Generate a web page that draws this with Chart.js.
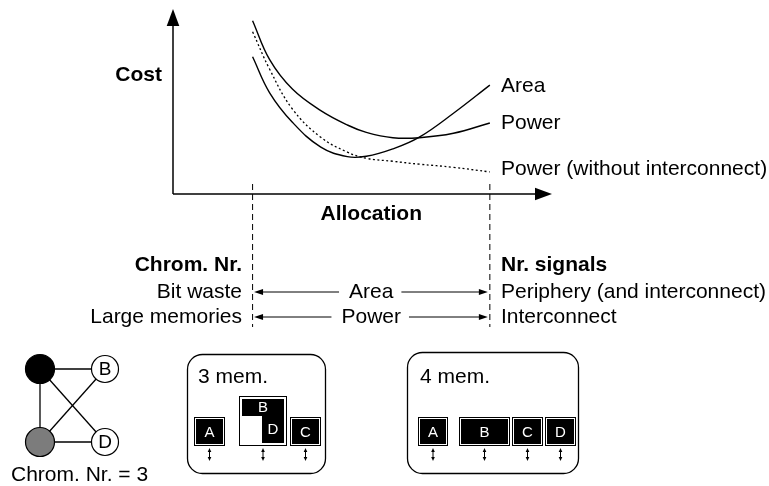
<!DOCTYPE html>
<html>
<head>
<meta charset="utf-8">
<script src="https://cdn.jsdelivr.net/npm/chart.js@4.4.1/dist/chart.umd.min.js"></script>
<style>
  html, body { margin: 0; padding: 0; background: #fff; }
  #wrap { width: 769px; height: 486px; }
</style>
</head>
<body>
<div id="wrap"><canvas id="cost-chart" width="769" height="486"></canvas></div>
<script>
// values (arbitrary units, axis 0..10)
const allocation = [2.1, 2.55, 3.15, 3.9, 4.6, 5.1, 5.8, 6.5, 7.4, 8.36];
const areaCost = [7.46, 5.5, 3.9, 2.55, 2.03, 2.05, 2.45, 3.09, 4.39, 5.92];
const powerCost = [9.42, 7.3, 5.7, 4.53, 3.75, 3.35, 3.06, 3.06, 3.3, 3.86];
const powerNoIcCost = [8.82, 6.78, 4.62, 3.08, 2.28, 1.94, 1.78, 1.62, 1.45, 1.2];
const seriesLabels = ['Area', 'Power', 'Power (without interconnect)'];
const allocationBounds = [2.1, 8.36];

const leftNotes = ['Chrom. Nr.', 'Bit waste', 'Large memories'];
const rightNotes = ['Nr. signals', 'Periphery (and interconnect)', 'Interconnect'];
const rangeNotes = ['Area', 'Power'];
const mem3Blocks = ['A', 'B', 'D', 'C'];
const mem4Blocks = ['A', 'B', 'C', 'D'];

const FONT = '"Liberation Sans", Arial, Helvetica, sans-serif';

function toPoints(ys) {
    return allocation.map((x, i) => ({ x: x, y: ys[i] }));
}

function line(ctx, x1, y1, x2, y2) {
    ctx.beginPath();
    ctx.moveTo(x1, y1);
    ctx.lineTo(x2, y2);
    ctx.stroke();
}

function arrowHead(ctx, tx, ty, dx, dy, len, half) {
    const bx = tx - dx * len, by = ty - dy * len;
    ctx.beginPath();
    ctx.moveTo(tx, ty);
    ctx.lineTo(bx - dy * half, by + dx * half);
    ctx.lineTo(bx + dy * half, by - dx * half);
    ctx.closePath();
    ctx.fill();
}

function roundBox(ctx, x, y, w, h, r) {
    ctx.beginPath();
    ctx.moveTo(x + r, y);
    ctx.arcTo(x + w, y, x + w, y + h, r);
    ctx.arcTo(x + w, y + h, x, y + h, r);
    ctx.arcTo(x, y + h, x, y, r);
    ctx.arcTo(x, y, x + w, y, r);
    ctx.closePath();
    ctx.stroke();
}

function memBlock(ctx, x, y, w, h, label) {
    ctx.fillStyle = '#000';
    ctx.fillRect(x, y, w, h);
    ctx.strokeStyle = '#fff';
    ctx.lineWidth = 1;
    ctx.strokeRect(x + 1.5, y + 1.5, w - 3, h - 3);
    ctx.fillStyle = '#fff';
    ctx.font = '15px ' + FONT;
    ctx.textAlign = 'center';
    ctx.textBaseline = 'middle';
    ctx.fillText(label, x + w / 2, y + h / 2 + 1);
}

function portArrow(ctx, x, y1, y2) {
    ctx.strokeStyle = '#000';
    ctx.fillStyle = '#000';
    ctx.lineWidth = 1;
    line(ctx, x, y1 + 2, x, y2 - 2);
    arrowHead(ctx, x, y1, 0, -1, 4, 1.8);
    arrowHead(ctx, x, y2, 0, 1, 4, 1.8);
}

function node(ctx, x, y, r, fill, label) {
    ctx.beginPath();
    ctx.arc(x, y, r, 0, Math.PI * 2);
    ctx.fillStyle = fill;
    ctx.fill();
    ctx.strokeStyle = '#000';
    ctx.lineWidth = 1.2;
    ctx.stroke();
    if (label) {
        ctx.fillStyle = '#000';
        ctx.font = '19px ' + FONT;
        ctx.textAlign = 'center';
        ctx.textBaseline = 'middle';
        ctx.fillText(label, x, y + 1);
    }
}

const diagram = {
    id: 'diagram',
    afterDraw(chart) {
        const ctx = chart.ctx;
        const xs = chart.scales.x, ys = chart.scales.y;
        const x0 = xs.left, y0 = ys.bottom;
        ctx.save();
        ctx.strokeStyle = '#000';
        ctx.fillStyle = '#000';

        // axes with arrow heads
        ctx.lineWidth = 1.5;
        line(ctx, x0, y0, x0, ys.top + 12);
        line(ctx, x0, y0, xs.right - 12, y0);
        arrowHead(ctx, x0, ys.top - 1, 0, -1, 17, 6.3);
        arrowHead(ctx, xs.right, y0, 1, 0, 17, 6.3);

        // dashed allocation bounds
        const bx = allocationBounds.map(v => xs.getPixelForValue(v));
        ctx.lineWidth = 1;
        ctx.setLineDash([6, 4]);
        bx.forEach(px => line(ctx, px, 184, px, 327));
        ctx.setLineDash([]);

        // axis titles
        ctx.font = 'bold 21px ' + FONT;
        ctx.textBaseline = 'alphabetic';
        ctx.textAlign = 'right';
        ctx.fillText('Cost', 162, 81);
        ctx.textAlign = 'center';
        ctx.fillText('Allocation', (bx[0] + bx[1]) / 2, 220);

        // curve labels
        ctx.font = '21px ' + FONT;
        ctx.textAlign = 'left';
        const endBase = [92, 128.5, 175];
        seriesLabels.forEach((t, i) => ctx.fillText(t, 501, endBase[i]));

        // notes under the chart
        const rowBase = [271, 298, 323];
        leftNotes.forEach((t, i) => {
            ctx.font = (i === 0 ? 'bold ' : '') + '21px ' + FONT;
            ctx.textAlign = 'right';
            ctx.fillText(t, 242, rowBase[i]);
        });
        rightNotes.forEach((t, i) => {
            ctx.font = (i === 0 ? 'bold ' : '') + '21px ' + FONT;
            ctx.textAlign = 'left';
            ctx.fillText(t, 501, rowBase[i]);
        });

        // range arrows between the bounds
        ctx.font = '21px ' + FONT;
        ctx.textAlign = 'center';
        const mid = (bx[0] + bx[1]) / 2;
        rangeNotes.forEach((t, i) => {
            const base = rowBase[i + 1];
            const ay = base - 6;
            const w = ctx.measureText(t).width;
            ctx.fillText(t, mid, base);
            ctx.lineWidth = 1;
            line(ctx, bx[0] + 8, ay, mid - w / 2 - 10, ay);
            line(ctx, mid + w / 2 + 8, ay, bx[1] - 8, ay);
            arrowHead(ctx, bx[0] + 1.5, ay, -1, 0, 9, 3);
            arrowHead(ctx, bx[1] - 2, ay, 1, 0, 9, 3);
        });

        // conflict graph
        ctx.lineWidth = 1.3;
        const nA = [40, 369], nC = [40, 442], nB = [105, 369], nD = [105, 442];
        [[nA, nB], [nA, nC], [nA, nD], [nC, nB], [nC, nD]].forEach(e => line(ctx, e[0][0], e[0][1], e[1][0], e[1][1]));
        node(ctx, nA[0], nA[1], 14.5, '#000');
        node(ctx, nC[0], nC[1], 14.5, '#7c7c7c');
        node(ctx, nB[0], nB[1], 13.5, '#fff', 'B');
        node(ctx, nD[0], nD[1], 13.5, '#fff', 'D');
        ctx.fillStyle = '#000';
        ctx.font = '21px ' + FONT;
        ctx.textAlign = 'left';
        ctx.textBaseline = 'alphabetic';
        ctx.fillText('Chrom. Nr. = 3', 11, 481);

        // memory organisations
        ctx.strokeStyle = '#000';
        ctx.lineWidth = 1.3;
        roundBox(ctx, 187.5, 354.5, 138, 119, 15);
        roundBox(ctx, 407.5, 352.5, 171, 121, 15);
        ctx.fillStyle = '#000';
        ctx.fillText('3 mem.', 198, 383);
        ctx.fillText('4 mem.', 420, 383);

        // 3 memories: A, B over D, C
        memBlock(ctx, 194, 417, 31, 29, mem3Blocks[0]);
        ctx.fillStyle = '#000';
        ctx.fillRect(239, 396, 48, 50);
        ctx.fillStyle = '#fff';
        ctx.fillRect(240, 397, 46, 48);
        ctx.fillStyle = '#000';
        ctx.fillRect(242, 399, 42, 17);
        ctx.fillRect(262, 416, 22, 27);
        ctx.fillStyle = '#fff';
        ctx.font = '15px ' + FONT;
        ctx.textAlign = 'center';
        ctx.textBaseline = 'middle';
        ctx.fillText(mem3Blocks[1], 263, 408);
        ctx.fillText(mem3Blocks[2], 273, 430);
        memBlock(ctx, 290, 417, 31, 29, mem3Blocks[3]);
        [209.5, 263, 305.5].forEach(x => portArrow(ctx, x, 448, 461));

        // 4 memories
        memBlock(ctx, 418, 417, 30, 29, mem4Blocks[0]);
        memBlock(ctx, 459, 417, 51, 29, mem4Blocks[1]);
        memBlock(ctx, 512, 417, 31, 29, mem4Blocks[2]);
        memBlock(ctx, 545, 417, 31, 29, mem4Blocks[3]);
        [433, 484.5, 527.5, 560.5].forEach(x => portArrow(ctx, x, 448, 461));

        ctx.restore();
    }
};

const chart = new Chart(document.getElementById('cost-chart'), {
    type: 'scatter',
    data: {
        datasets: [{
            label: seriesLabels[0],
            data: toPoints(areaCost),
            borderColor: '#000',
            borderWidth: 1.4,
        }, {
            label: seriesLabels[1],
            data: toPoints(powerCost),
            borderColor: '#000',
            borderWidth: 1.4,
        }, {
            label: seriesLabels[2],
            data: toPoints(powerNoIcCost),
            borderColor: '#000',
            borderWidth: 1.3,
            borderDash: [2, 2.5],
        }]
    },
    options: {
        responsive: false,
        animation: false,
        devicePixelRatio: 1,
        showLine: true,
        elements: {
            point: { radius: 0, hoverRadius: 0 },
            line: { tension: 0.4, fill: false }
        },
        layout: { padding: { left: 173, right: 217, top: 10, bottom: 292 } },
        scales: {
            x: { type: 'linear', min: 0, max: 10, display: false },
            y: { type: 'linear', min: 0, max: 10, display: false }
        },
        plugins: { legend: { display: false }, tooltip: { enabled: false } }
    },
    plugins: [diagram]
});
</script>
</body>
</html>
